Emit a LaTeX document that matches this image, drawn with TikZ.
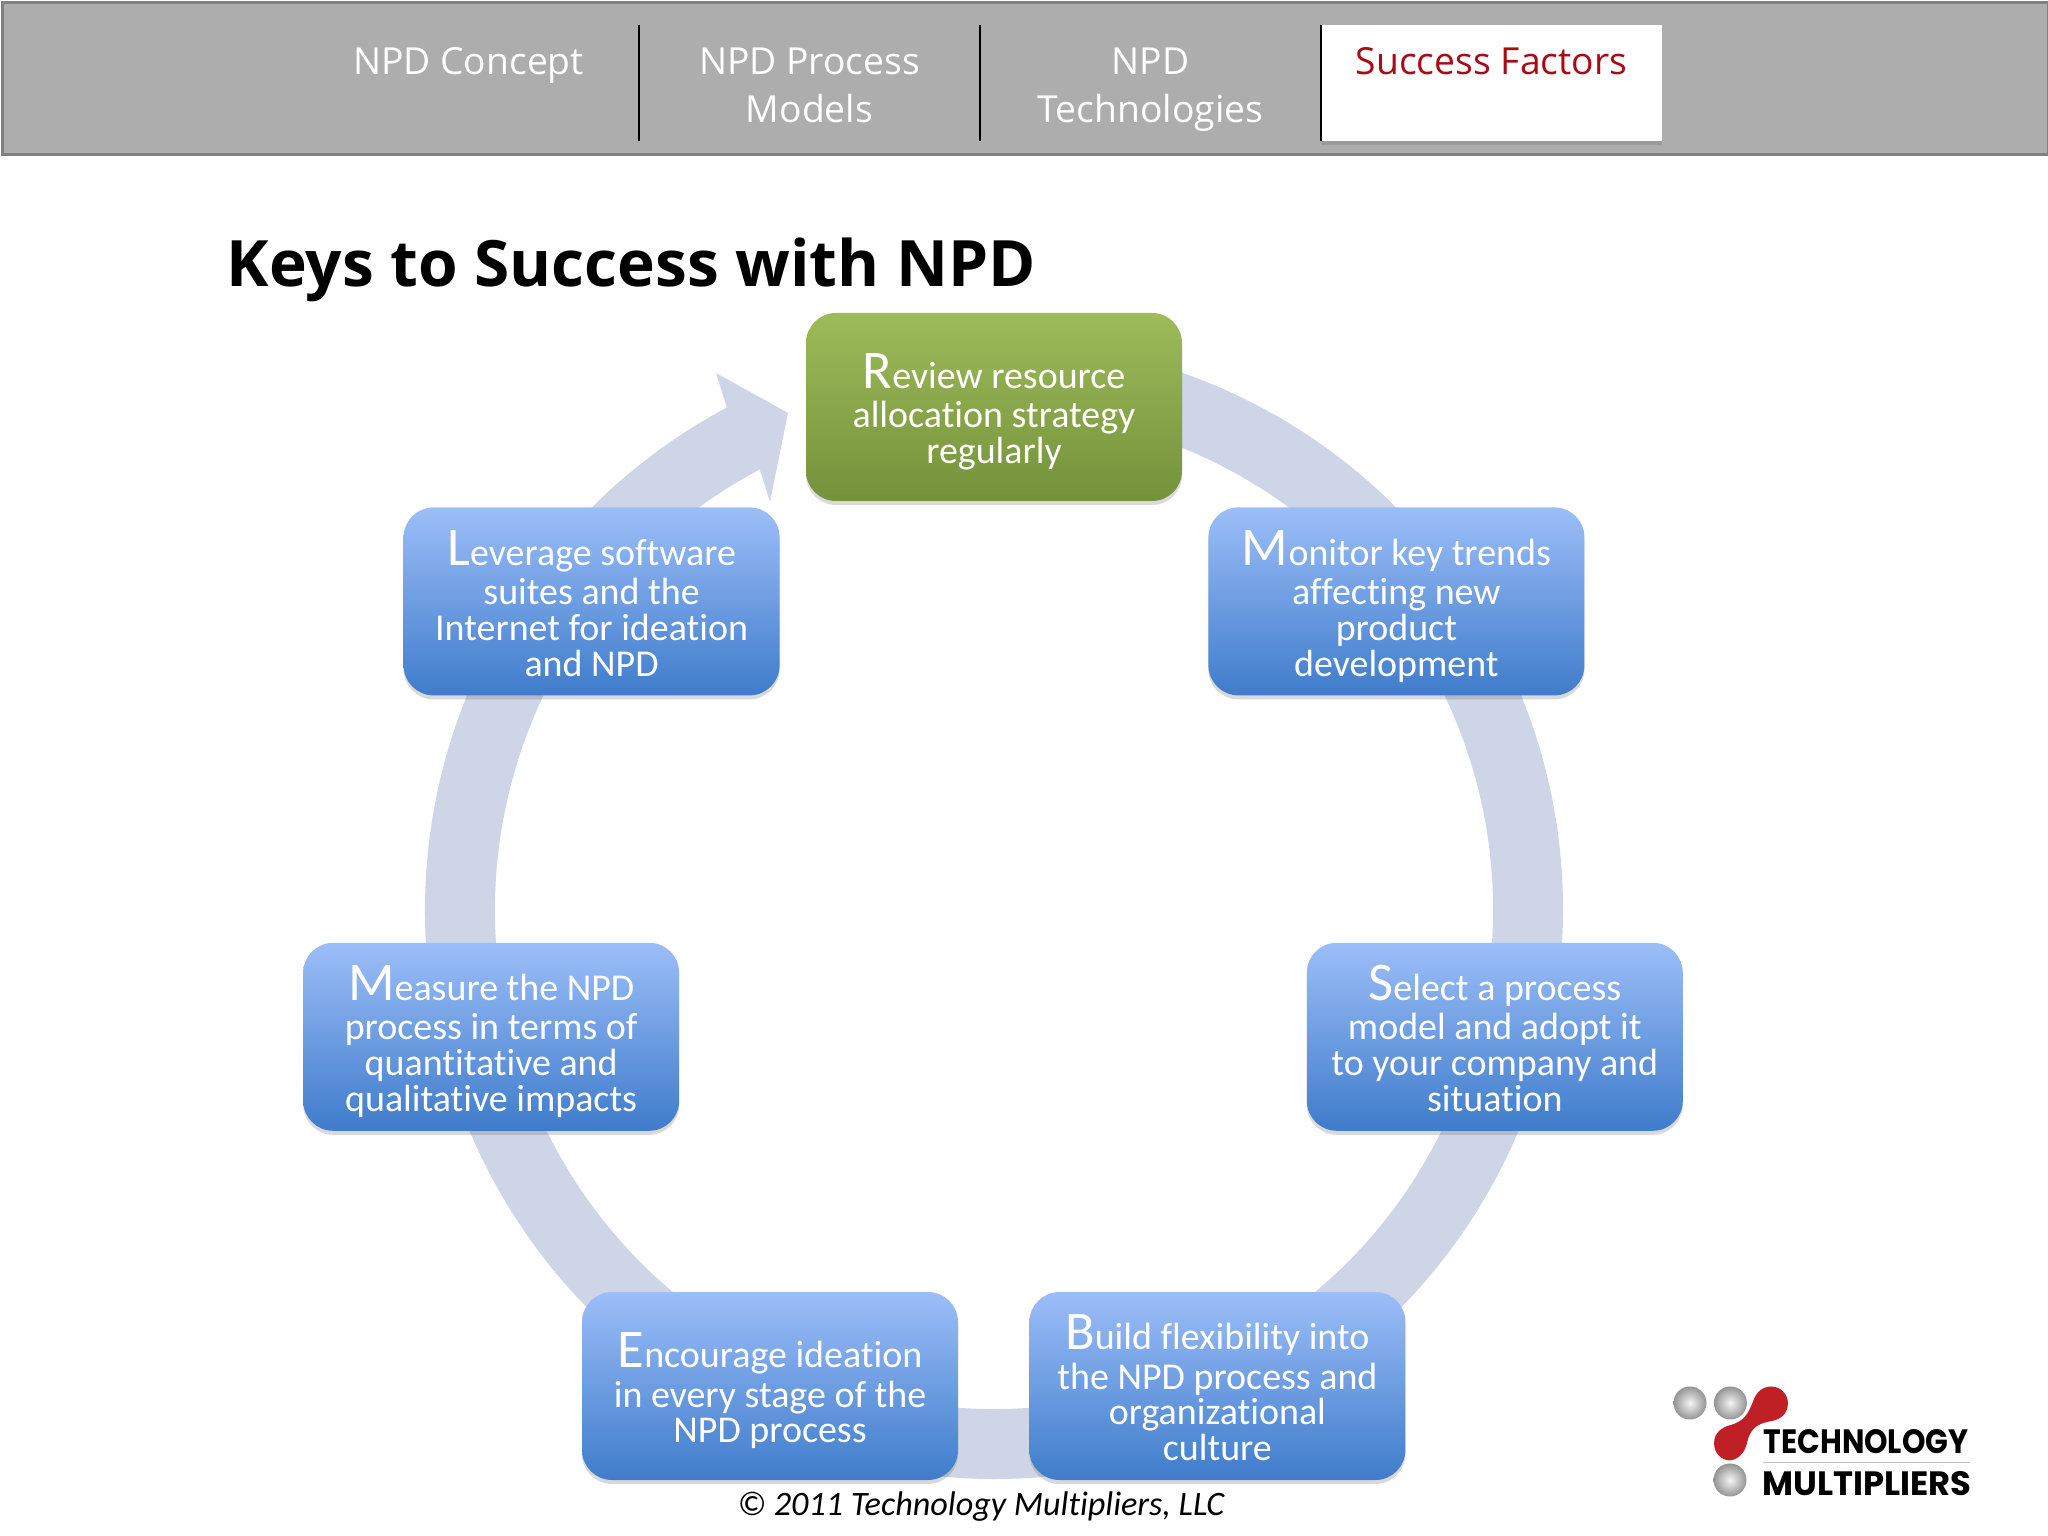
\documentclass[tikz,border=0pt]{standalone}
\usepackage{fontspec}
\setmainfont[Ligatures=NoCommon]{Carlito}
\newfontfamily\tabfont{Open Sans}
\newfontfamily\logofont{Poppins}
\usepackage{xcolor}
\usepackage{tikz}
\usetikzlibrary{positioning,calc,shadows}
\definecolor{npdblue}{RGB}{156,190,248}
\definecolor{npddeep}{RGB}{63,124,203}
\definecolor{npdgreen}{RGB}{158,187,90}
\definecolor{npdolive}{RGB}{116,146,58}
\definecolor{npdring}{RGB}{205,213,230}
\definecolor{npdbar}{RGB}{173,173,173}
\definecolor{npdred}{RGB}{170,10,20}
\definecolor{logored}{RGB}{190,32,38}
\newcommand{\capletter}[1]{\rule{0pt}{12.7pt}{\fontsize{15.5}{10}\selectfont #1}}
\newcommand{\tabstrut}{\rule{0pt}{11.3pt}}

\begin{document}
\begin{tikzpicture}[
        every node/.style={font=\fontsize{10.8}{10.2}\selectfont},
        softshadow/.style={drop shadow={shadow xshift=0cm, shadow yshift=-0.04cm, opacity=.25, fill=black!60}},
        keybox/.style={rectangle, rounded corners=0.3cm, minimum width=3.76cm, minimum height=1.88cm,
            inner sep=0pt, align=center, text=white, softshadow, execute at end node={\vphantom{p}}},
        bluebox/.style={keybox, top color=npdblue, bottom color=npddeep},
        greenbox/.style={keybox, top color=npdgreen, bottom color=npdolive},
        tabbox/.style={rectangle, minimum width=3.41cm, minimum height=1.16cm, inner sep=0pt, outer sep=0pt, align=center,
            text=white, font=\tabfont\fontsize{10.6}{13.6}\selectfont},
        logoball/.style={circle, minimum size=0.33cm, inner sep=0pt, shading=radial, inner color=black!4, outer color=black!42},
        logotext/.style={inner sep=0pt, anchor=west, font=\logofont\bfseries\fontsize{9.6}{10}\selectfont}
    ]
        \useasboundingbox (0,0) rectangle (20.48,15.36);

        % header bar
        \node[rectangle, draw=black!50, line width=0.03cm, fill=npdbar, minimum width=20.45cm, minimum height=1.52cm, anchor=north west] (bar) at (0.015,15.345) {};
        \node[tabbox, anchor=north west] (concept) at (2.98,15.11) {\tabstrut NPD Concept\\\vphantom{Mg}};
        \node[tabbox, right=0cm of concept] (models) {\tabstrut NPD Process\\Models\vphantom{g}};
        \node[tabbox, right=0cm of models] (tech) {\tabstrut NPD\\Technologies};
        \node[tabbox, right=0cm of tech, fill=white, text=npdred, softshadow] (factors) {\tabstrut Success Factors\\\vphantom{Mg}};
        \draw[thick] (concept.north east) -- (concept.south east);
        \draw[thick] (models.north east) -- (models.south east);
        \draw[thick] (tech.north east) -- (tech.south east);

        \node[anchor=west, inner sep=0pt, font=\tabfont\bfseries\fontsize{18.2}{18}\selectfont] (title) at (2.26,12.66) {Keys to Success with NPD};

        % ring with its arrow head, behind the boxes
        \coordinate (ringc) at (9.94,6.26);
        \coordinate (barbup) at (7.16,11.63);
        \coordinate (arrowtip) at (7.88,11.23);
        \coordinate (barbdown) at (7.70,10.34);
        \fill[npdring] ($(ringc)+(85:5.69)$) arc[start angle=85, end angle=-242, radius=5.69]
            -- (barbup) -- (arrowtip) -- (barbdown)
            -- ($(ringc)+(118:4.99)$) arc[start angle=-242, end angle=85, radius=4.99] -- cycle;

        \node[greenbox] (review) at (9.94,11.29) {\capletter{R}eview resource\\[1pt]allocation strategy\\regularly};
        \node[bluebox, below right=0.05cm and 0.25cm of review] (monitor) {\capletter{M}onitor key trends\\[1pt]affecting new\\product\\development};
        \node[bluebox, below left=0.05cm and 0.25cm of review] (leverage) {\capletter{L}everage software\\[1pt]suites and the\\Internet for ideation\\and NPD};
        \node[bluebox, below right=2.46cm and -2.79cm of monitor] (select) {\capletter{S}elect a process\\[1pt]model and adopt it\\to your company and\\situation};
        \node[bluebox, below left=2.46cm and -2.77cm of leverage] (measure) {\capletter{M}easure the NPD\\[1pt]process in terms of\\quantitative and\\qualitative impacts};
        \node[bluebox, below left=1.598cm and -1.00cm of select] (build) {\capletter{B}uild flexibility into\\[1pt]the NPD process and\\organizational\\culture};
        \node[bluebox, left=0.70cm of build] (encourage) {\capletter{E}ncourage ideation\\[1pt]in every stage of the\\NPD process};

        \node[inner sep=0pt, font=\itshape\fontsize{9.73}{10}\selectfont] (copy) at (9.81,0.29) {\textcopyright{} 2011 Technology Multipliers, LLC};

        % logo
        \node[logoball] (ballone) at (16.90,1.33) {};
        \node[logoball, right=0.06cm of ballone] (balltwo) {};
        \node[logoball] (ballthree) at (17.30,0.56) {};
        \begin{scope}[shift={(16,1.96)}, x=0.003333cm, y=-0.003333cm]
            \fill[logored] (515,140) .. controls (545,140) and (565,165) .. (565,190)
                .. controls (565,225) and (540,240) .. (510,245)
                .. controls (470,252) and (450,270) .. (442,310)
                .. controls (435,340) and (415,360) .. (390,362)
                .. controls (365,362) and (343,340) .. (343,310)
                .. controls (343,280) and (365,262) .. (395,255)
                .. controls (430,245) and (445,225) .. (460,185)
                .. controls (470,155) and (490,140) .. (515,140) -- cycle;
        \end{scope}
        \node[logotext, xscale=.885, transform shape] (logotech) at (17.63,0.94) {TECHNOLOGY};
        \node[logotext] (logomult) at (17.62,0.52) {MULTIPLIERS};
        \draw[black!25, very thin] (17.63,0.74) -- (19.70,0.74);
    \end{tikzpicture}
\end{document}
